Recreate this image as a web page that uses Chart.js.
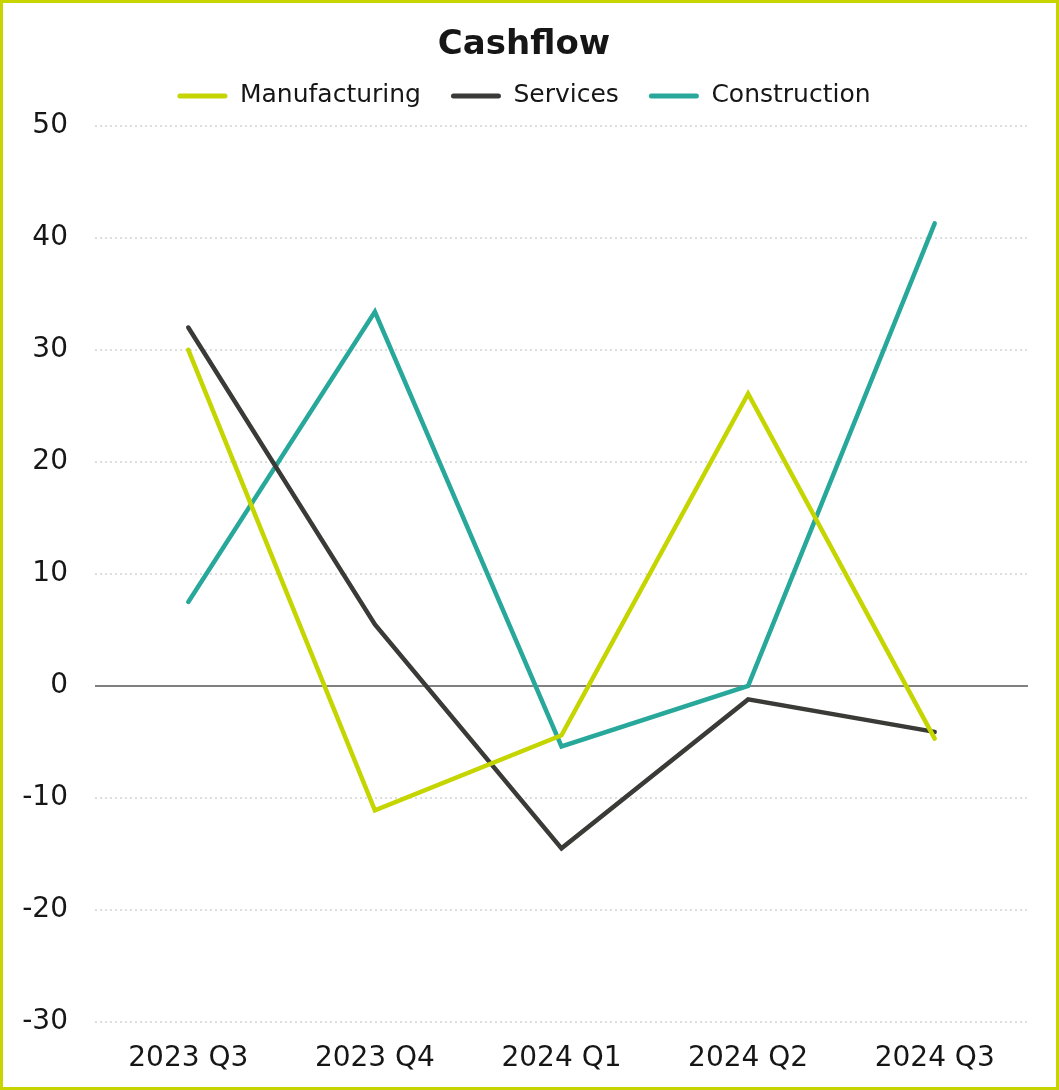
<!DOCTYPE html>
<html><head><meta charset="utf-8">
<script src="https://cdn.jsdelivr.net/npm/chart.js@4"></script>
<style>
html,body{margin:0;padding:0;background:#fff;}
#c{position:absolute;left:0;top:0;}
#frame{position:absolute;left:0;top:0;width:1053px;height:1084px;border:3px solid #c8d400;pointer-events:none;}
</style></head><body>
<canvas id="c" width="1059" height="1090"></canvas>
<div id="frame"></div>
<script>
const categories = ["2023 Q3","2023 Q4","2024 Q1","2024 Q2","2024 Q3"];
const manufacturing = [30, -11.1, -4.4, 26.1, -4.7];
const services = [32, 5.5, -14.5, -1.2, -4.1];
const construction = [7.5, 33.4, -5.4, 0, 41.3];
const yTicks = [50,40,30,20,10,0,-10,-20,-30];

const FONT = "'DejaVu Sans',sans-serif";
const TXT = '#161616';
function ds(label, data, color){
  return {label, data, borderColor:color, backgroundColor:color, borderWidth:4.5,
    pointRadius:0, tension:0, borderCapStyle:'round'};
}
new Chart(document.getElementById('c'), {
  type: 'line',
  data: {
    labels: categories,
    datasets: [
      ds('Manufacturing', manufacturing, '#c5d500'),
      ds('Services', services, '#3a3b37'),
      ds('Construction', construction, '#27a89b')
    ]
  },
  options: {
    responsive:false, animation:false,
    layout:{padding:{left:20,right:31,top:5,bottom:14}},
    plugins:{
      title:{display:true,text:'Cashflow',color:TXT,font:{family:FONT,size:34,weight:'bold'},padding:{top:19.6,bottom:-12}},
      legend:{display:true,labels:{color:TXT,font:{family:FONT,size:25},boxWidth:50,boxHeight:5,padding:30,useBorderRadius:true,borderRadius:2.5,
        generateLabels:(chart)=>chart.data.datasets.map((d,i)=>({text:d.label,fillStyle:d.borderColor,strokeStyle:d.borderColor,lineWidth:0,borderRadius:2.5,datasetIndex:i,fontColor:TXT}))}},
      tooltip:{enabled:false}
    },
    scales:{
      x:{offset:true,grid:{display:false,drawTicks:false},border:{display:false},
         afterFit:(s)=>{s.height=54;},
         ticks:{color:TXT,font:{family:FONT,size:28},padding:20,maxRotation:0}},
      y:{min:-30,max:50,
         afterBuildTicks:(s)=>{s.ticks=yTicks.map(v=>({value:v}));},
         afterFit:(s)=>{s.width=75;},
         border:{display:false, dash:(ctx)=>ctx.tick && ctx.tick.value===0 ? [] : [2,3]},
         grid:{drawTicks:false,
           color:(ctx)=>ctx.tick && ctx.tick.value===0 ? '#808080' : '#dedede',
           lineWidth:2},
         ticks:{color:TXT,font:{family:FONT,size:28},padding:27}}
    }
  },
  plugins:[{
    id:'legendHeight',
    afterInit(chart){
      const lg = chart.legend;
      const orig = lg.fit.bind(lg);
      lg.fit = function(){ orig(); this.height = 72.5; };
    }
  }]
});
</script>
</body></html>
